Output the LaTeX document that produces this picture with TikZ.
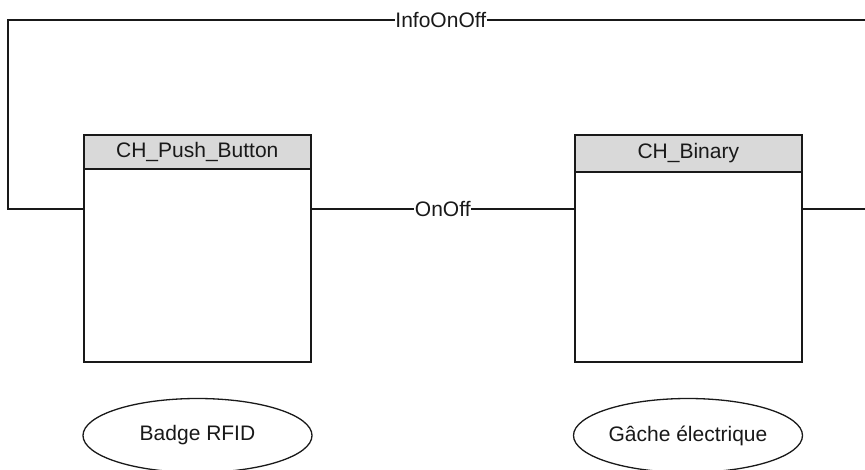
\documentclass[tikz,border=0pt]{standalone}
\usepackage{fontspec}
\setmainfont{Liberation Sans}
\usetikzlibrary{shapes.geometric}
\begin{document}
\begin{tikzpicture}[x=1pt,y=-1pt,
  every node/.style={font=\fontsize{21}{25}\selectfont, text=black!90},
  wire/.style={line width=1.3pt, draw=black!90},
  body/.style={draw=black!90, line width=1.6pt, fill=white, anchor=north west, inner sep=0pt, minimum width=227pt},
  header/.style={draw=black!90, line width=1.6pt, fill=black!15, anchor=north west, inner sep=0pt, minimum width=227pt},
  lbl/.style={fill=white, inner sep=0.5pt},
  actor/.style={ellipse, draw=black!90, line width=1.3pt, minimum width=229pt, minimum height=74pt, inner sep=0pt}]
\useasboundingbox (0,0) rectangle (865,470);
% free ends of the connectors
\coordinate (lc) at (8,209);
\coordinate (tl) at (8,20);
\coordinate (tr) at (865,20);
\coordinate (rr) at (865,209);
% blocks
\node[body, minimum height=227pt] (pb) at (83,134) {};
\node[header, minimum height=34pt] (pbh) at (83,134) {CH\_Push\_Button};
\node[body, minimum height=227pt] (bin) at (574,134) {};
\node[header, minimum height=37pt] (binh) at (574,134) {CH\_Binary};
% connectors
\draw[wire] (pb.north west |- lc) -- (lc) -- (tl) -- node[pos=0.505, lbl] {InfoOnOff} (tr);
\draw[wire] (pb.north east |- lc) -- node[midway, lbl] {OnOff} (bin.north west |- lc);
\draw[wire] (bin.north east |- rr) -- (rr);
% actors
\node[actor] (badge) at (197.5,435.5) {Badge RFID};
\node[actor] (gache) at (688,435.5) {Gâche électrique};
\end{tikzpicture}
\end{document}
